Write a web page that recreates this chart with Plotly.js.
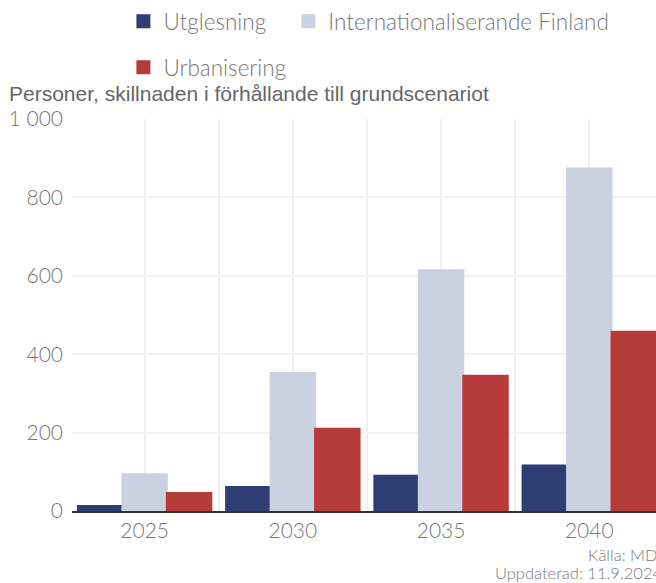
<!DOCTYPE html>
<html>
<head>
<meta charset="utf-8">
<script src="https://cdn.plot.ly/plotly-3.0.1.min.js"></script>
<style>
  html, body { margin: 0; padding: 0; overflow: hidden; background: #fff; }
  #chart { width: 656px; height: 583px; }
</style>
</head>
<body>
<div id="chart"></div>
<script>
// ---- Data ----
const years = [2025, 2030, 2035, 2040];
const tickLabels = ["2025", "2030", "2035", "2040"];
const seriesNames = ["Utglesning", "Internationaliserande Finland", "Urbanisering"];
const utglesning = [13, 61, 90, 116];
const internationaliserande = [94, 352, 614, 874];
const urbanisering = [46, 210, 345, 457];
const yTickVals = [0, 200, 400, 600, 800, 1000];
const minorGridVals = [2027.5, 2032.5, 2037.5, 2042.5];

const colors = ["#2e3e74", "#cad1e0", "#b63b3b"];
const txtFont = "Lato, 'Open Sans', sans-serif";

const traces = [
  { type: "bar", x: years, y: utglesning, name: seriesNames[0],
    marker: { color: colors[0], line: { color: colors[0], width: 2 } }, legend: "legend" },
  { type: "bar", x: years, y: internationaliserande, name: seriesNames[1],
    marker: { color: colors[1], line: { color: colors[1], width: 2 } }, legend: "legend2" },
  { type: "bar", x: years, y: urbanisering, name: seriesNames[2],
    marker: { color: colors[2], line: { color: colors[2], width: 2 } }, legend: "legend3" }
];

const legendFont = { family: txtFont, size: 22.5, color: "#777777", weight: 300 };
function legendAt(x, y) {
  return {
    orientation: "h",
    x: x, xanchor: "left",
    y: y, yanchor: "middle",
    font: legendFont,
    bgcolor: "rgba(0,0,0,0)"
  };
}

const layout = {
  width: 656,
  height: 583,
  margin: { l: 72, r: 0, t: 118, b: 72 },
  paper_bgcolor: "#ffffff",
  plot_bgcolor: "#ffffff",
  barmode: "group",
  bargap: 0.1,
  bargroupgap: 0,
  separators: ", ",
  font: { family: txtFont, color: "#777777", size: 19 },
  xaxis: {
    range: [2022.55, 2042.25],
    tickvals: years,
    ticktext: tickLabels,
    showgrid: true,
    gridcolor: "#f0f0f0",
    gridwidth: 2,
    minor: { tickvals: minorGridVals, showgrid: true, gridcolor: "#f0f0f0", gridwidth: 2, ticks: "" },
    showline: true,
    linecolor: "#333333",
    linewidth: 2,
    layer: "above traces",
    ticks: "",
    zeroline: false,
    tickfont: { family: txtFont, size: 21, color: "#777777", weight: 300 },
    fixedrange: true
  },
  yaxis: {
    range: [0, 1000],
    tickvals: yTickVals,
    separatethousands: true,
    showgrid: true,
    gridcolor: "#f2f2f2",
    gridwidth: 2,
    zeroline: false,
    ticks: "",
    ticklabelstandoff: 8,
    tickfont: { family: txtFont, size: 21, color: "#777777", weight: 300 },
    fixedrange: true
  },
  showlegend: true,
  legend: legendAt(0.088, 1.25),
  legend2: legendAt(0.3705, 1.25),
  legend3: legendAt(0.088, 1.128),
  annotations: [
    { text: "Personer, skillnaden i förhållande till grundscenariot",
      xref: "paper", yref: "paper", x: -0.112, y: 1.066,
      xanchor: "left", yanchor: "middle", showarrow: false,
      font: { family: "'Liberation Sans', Arial, sans-serif", size: 21, color: "#666666" } },
    { text: "Källa: MDI",
      xref: "paper", yref: "paper", x: 0.88, y: -0.111,
      xanchor: "left", yanchor: "middle", showarrow: false,
      font: { family: txtFont, size: 16.5, color: "#777777", weight: 300 } },
    { text: "Uppdaterad: 11.9.2024",
      xref: "paper", yref: "paper", x: 0.721, y: -0.158,
      xanchor: "left", yanchor: "middle", showarrow: false,
      font: { family: txtFont, size: 16.5, color: "#777777", weight: 300 } }
  ]
};

Plotly.newPlot("chart", traces, layout, { staticPlot: true, displayModeBar: false });
</script>
</body>
</html>
